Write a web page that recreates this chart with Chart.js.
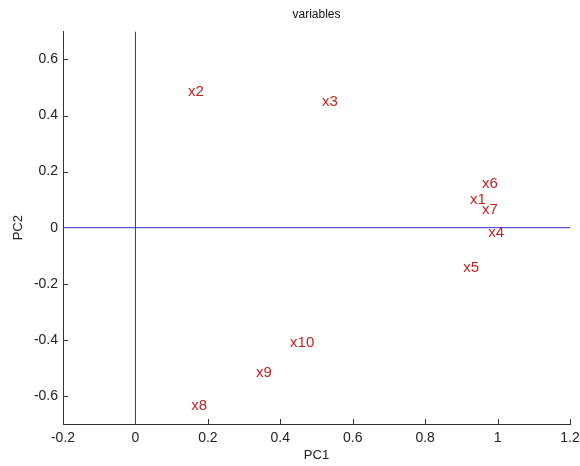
<!DOCTYPE html>
<html>
<head>
<meta charset="utf-8">
<script src="https://cdn.jsdelivr.net/npm/chart.js@4.4.0/dist/chart.umd.min.js"></script>
<style>
  html, body { margin: 0; padding: 0; background: #fff; }
  #wrap { width: 580px; height: 466px; }
</style>
</head>
<body>
<div id="wrap"><canvas id="c" width="580" height="466"></canvas></div>
<script>
// ---- data ----
const categories = ['x1', 'x2', 'x3', 'x4', 'x5', 'x6', 'x7', 'x8', 'x9', 'x10'];
const pc1 = [0.924, 0.145, 0.515, 0.974, 0.905, 0.957, 0.957, 0.154, 0.333, 0.427];
const pc2 = [0.100, 0.486, 0.450, -0.018, -0.143, 0.157, 0.064, -0.636, -0.518, -0.410];
const xTicks = [-0.2, 0, 0.2, 0.4, 0.6, 0.8, 1, 1.2];
const yTicks = [-0.6, -0.4, -0.2, 0, 0.2, 0.4, 0.6];
const xTickLabels = ['-0.2', '0', '0.2', '0.4', '0.6', '0.8', '1', '1.2'];
const yTickLabels = ['-0.6', '-0.4', '-0.2', '0', '0.2', '0.4', '0.6'];
const xRange = [-0.2, 1.2];
const yRange = [-0.7, 0.7];

const FONT = "'Liberation Sans', Arial, Helvetica, sans-serif";
const labelColor = 'rgb(205,30,30)';
const zeroColor = 'rgb(45,45,200)';
const axisColor = '#333333';

const points = categories.map((c, i) => ({ x: pc1[i], y: pc2[i] }));

const textLabels = {
  id: 'textLabels',
  afterDatasetsDraw(chart) {
    const meta = chart.getDatasetMeta(0);
    const ctx = chart.ctx;
    ctx.save();
    ctx.font = '15px ' + FONT;
    ctx.fillStyle = labelColor;
    ctx.textAlign = 'left';
    ctx.textBaseline = 'middle';
    meta.data.forEach((el, i) => {
      ctx.fillText(categories[i], el.x, el.y);
    });
    ctx.restore();
  }
};

const inwardTicks = {
  id: 'inwardTicks',
  afterDraw(chart) {
    const ctx = chart.ctx;
    const xs = chart.scales.x, ys = chart.scales.y;
    const a = chart.chartArea;
    ctx.save();
    ctx.strokeStyle = axisColor;
    ctx.lineWidth = 1;
    ctx.beginPath();
    xTicks.forEach(v => {
      if (v === 0) return;
      const px = Math.round(xs.getPixelForValue(v)) + 0.5;
      ctx.moveTo(px, a.bottom);
      ctx.lineTo(px, a.bottom - 5);
    });
    yTicks.forEach(v => {
      if (v === 0) return;
      const py = Math.round(ys.getPixelForValue(v)) + 0.5;
      ctx.moveTo(a.left, py);
      ctx.lineTo(a.left + 5, py);
    });
    ctx.stroke();
    ctx.restore();
  }
};

new Chart(document.getElementById('c'), {
  type: 'scatter',
  data: {
    datasets: [
      {
        label: 'variables',
        data: points,
        pointRadius: 0,
        pointHoverRadius: 0,
        showLine: false
      },
      {
        type: 'line',
        label: 'vzero',
        data: [{ x: 0, y: yRange[0] }, { x: 0, y: yRange[1] }],
        borderColor: zeroColor,
        borderWidth: 1,
        pointRadius: 0,
        fill: false
      },
      {
        type: 'line',
        label: 'hzero',
        data: [{ x: xRange[0], y: 0 }, { x: xRange[1], y: 0 }],
        borderColor: zeroColor,
        borderWidth: 1,
        pointRadius: 0,
        fill: false
      }
    ]
  },
  options: {
    responsive: false,
    animation: false,
    events: [],
    layout: { padding: { top: 0, right: 10, left: 0, bottom: 0 } },
    plugins: {
      legend: { display: false },
      tooltip: { enabled: false },
      title: {
        display: true,
        text: 'variables',
        fullSize: false,
        color: '#111',
        font: { family: FONT, size: 12, weight: 'normal' },
        padding: { top: 7, bottom: 10 }
      }
    },
    scales: {
      x: {
        type: 'linear',
        min: xRange[0],
        max: xRange[1],
        afterBuildTicks(scale) { scale.ticks = xTicks.map(v => ({ value: v })); },
        afterFit(scale) { scale.height = 42; scale.paddingRight = 0; scale.paddingLeft = 0; },
        grid: { display: false, drawTicks: false },
        border: { display: true, color: axisColor, width: 1 },
        ticks: {
          padding: 6,
          color: '#222',
          font: { family: FONT, size: 14 },
          maxRotation: 0,
          autoSkip: false,
          callback(v, i) { return xTickLabels[i]; }
        },
        title: {
          display: true,
          text: 'PC1',
          color: '#222',
          font: { family: FONT, size: 13 },
          padding: { top: 0, bottom: 3 }
        }
      },
      y: {
        type: 'linear',
        min: yRange[0],
        max: yRange[1],
        afterBuildTicks(scale) { scale.ticks = yTicks.map(v => ({ value: v })); },
        afterFit(scale) { scale.width = 63; scale.paddingTop = 0; scale.paddingBottom = 0; },
        grid: { display: false, drawTicks: false },
        border: { display: true, color: axisColor, width: 1 },
        ticks: {
          padding: 5,
          color: '#222',
          font: { family: FONT, size: 14 },
          autoSkip: false,
          callback(v, i) { return yTickLabels[i]; }
        },
        title: {
          display: true,
          text: 'PC2',
          color: '#222',
          font: { family: FONT, size: 13 },
          padding: { top: 11, bottom: 0 }
        }
      }
    }
  },
  plugins: [textLabels, inwardTicks]
});
</script>
</body>
</html>
